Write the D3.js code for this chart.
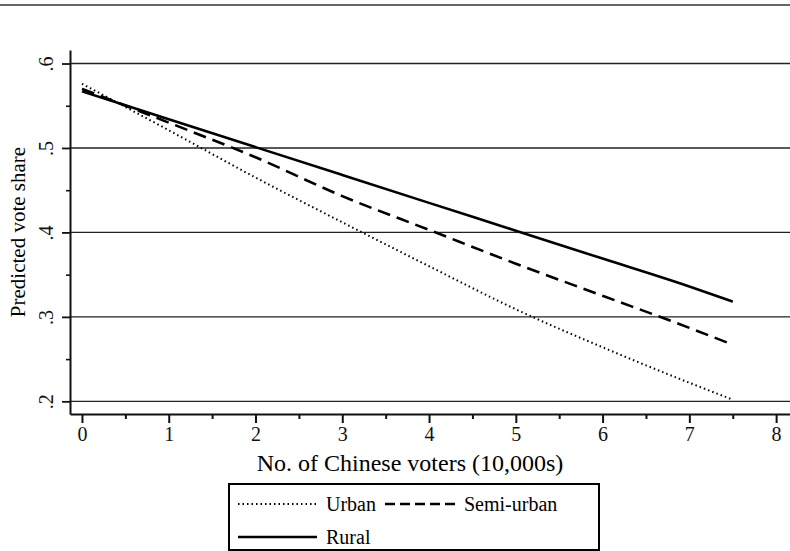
<!DOCTYPE html>
<html>
<head>
<meta charset="utf-8">
<script src="https://cdn.jsdelivr.net/npm/d3@7"></script>
<style>
  body { margin: 0; background: #fff; }
  svg { display: block; font-family: "Liberation Serif", "Times New Roman", serif; }
</style>
</head>
<body>
<svg id="chart" width="790" height="551"></svg>
<script>
// values
const xTicks = [0, 1, 2, 3, 4, 5, 6, 7, 8];
const xMinor = [0.5, 1.5, 2.5, 3.5, 4.5, 5.5, 6.5, 7.5];
const yTicks = [0.2, 0.3, 0.4, 0.5, 0.6];
const yMinor = [0.25, 0.35, 0.45, 0.55];

const voters = [0, 1, 2, 3, 4, 5, 6, 7, 7.5];
const urban = [0.576, 0.521, 0.465, 0.412, 0.360, 0.309, 0.264, 0.222, 0.202];
const semiUrban = [0.570, 0.530, 0.489, 0.443, 0.403, 0.363, 0.325, 0.287, 0.267];
const rural = [0.567, 0.534, 0.501, 0.468, 0.435, 0.402, 0.369, 0.336, 0.318];

const series = [
  { name: "Urban", values: urban, dash: "1.5,3", width: 2 },
  { name: "Semi-urban", values: semiUrban, dash: "13,7", width: 2.6 },
  { name: "Rural", values: rural, dash: null, width: 2.6 }
];

const svg = d3.select("#chart");

const x = d3.scaleLinear().domain([-0.138, 8.16]).range([70, 790]);
const y = d3.scaleLinear().domain([0.185, 0.616]).range([414, 50]);

const styleAxis = (g, w) => {
  g.attr("font-family", "Liberation Serif, serif").attr("font-size", 20);
  g.selectAll("path, line").attr("stroke", "#111").attr("stroke-width", w);
  g.selectAll("text").attr("fill", "#111").style("font-size", "20px");
};

// rule across the top of the page
svg.append("line")
  .attr("x1", 0).attr("x2", 790).attr("y1", 5).attr("y2", 5)
  .attr("stroke", "#333").attr("stroke-width", 1.5);

// gridlines
svg.append("g").selectAll("line")
  .data(yTicks)
  .join("line")
  .attr("x1", 70).attr("x2", 790)
  .attr("y1", d => y(d)).attr("y2", d => y(d))
  .attr("stroke", "#222").attr("stroke-width", 1.4);

// x axis
svg.append("g")
  .attr("transform", "translate(0,414)")
  .call(d3.axisBottom(x).tickValues(xTicks).tickSize(9).tickSizeOuter(0).tickPadding(4))
  .call(g => styleAxis(g, 2));

svg.append("g")
  .attr("transform", "translate(0,414)")
  .call(d3.axisBottom(x).tickValues(xMinor).tickSize(5).tickFormat(""))
  .call(g => g.select(".domain").remove())
  .call(g => styleAxis(g, 2));

// y axis
svg.append("g")
  .attr("transform", "translate(70,0)")
  .call(d3.axisLeft(y).tickValues(yTicks).tickSize(8).tickSizeOuter(0)
    .tickFormat(d => d3.format(".1f")(d).replace(/^0/, "")))
  .call(g => styleAxis(g, 1.8))
  .call(g => g.select(".domain").attr("stroke-width", 2))
  .call(g => g.selectAll(".tick text")
    .attr("x", null).attr("dy", null)
    .attr("text-anchor", "middle")
    .attr("transform", "translate(-17,0) rotate(-90)"));

svg.append("g")
  .attr("transform", "translate(70,0)")
  .call(d3.axisLeft(y).tickValues(yMinor).tickSize(4).tickFormat(""))
  .call(g => g.select(".domain").remove())
  .call(g => styleAxis(g, 1.6));

// axis titles
svg.append("text")
  .attr("x", 410).attr("y", 471)
  .attr("text-anchor", "middle")
  .attr("font-size", 24)
  .text("No. of Chinese voters (10,000s)");

svg.append("text")
  .attr("transform", "translate(25,232) rotate(-90)")
  .attr("text-anchor", "middle")
  .attr("font-size", 21)
  .text("Predicted vote share");

// lines
const line = d3.line()
  .x((d, i) => x(voters[i]))
  .y(d => y(d))
  .curve(d3.curveMonotoneX);

svg.append("g").selectAll("path")
  .data(series)
  .join("path")
  .attr("d", d => line(d.values))
  .attr("fill", "none")
  .attr("stroke", "#000")
  .attr("stroke-width", d => d.width)
  .attr("stroke-dasharray", d => d.dash);

// legend
const legend = svg.append("g");
legend.append("rect")
  .attr("x", 229).attr("y", 484).attr("width", 370).attr("height", 66)
  .attr("fill", "none").attr("stroke", "#000").attr("stroke-width", 2);

const legendPos = [
  { sx: 238, ty: 504 },
  { sx: 385, ty: 504 },
  { sx: 238, ty: 537 }
];

series.forEach((s, i) => {
  const p = legendPos[i];
  const len = i === 1 ? 70 : 79;
  legend.append("line")
    .attr("x1", p.sx).attr("x2", p.sx + len)
    .attr("y1", p.ty).attr("y2", p.ty)
    .attr("stroke", "#000")
    .attr("stroke-width", s.width)
    .attr("stroke-dasharray", i === 1 ? "10,5" : s.dash);
  legend.append("text")
    .attr("x", p.sx + len + 9).attr("y", p.ty)
    .attr("dy", "0.35em")
    .attr("font-size", 20)
    .text(s.name);
});
</script>
</body>
</html>
